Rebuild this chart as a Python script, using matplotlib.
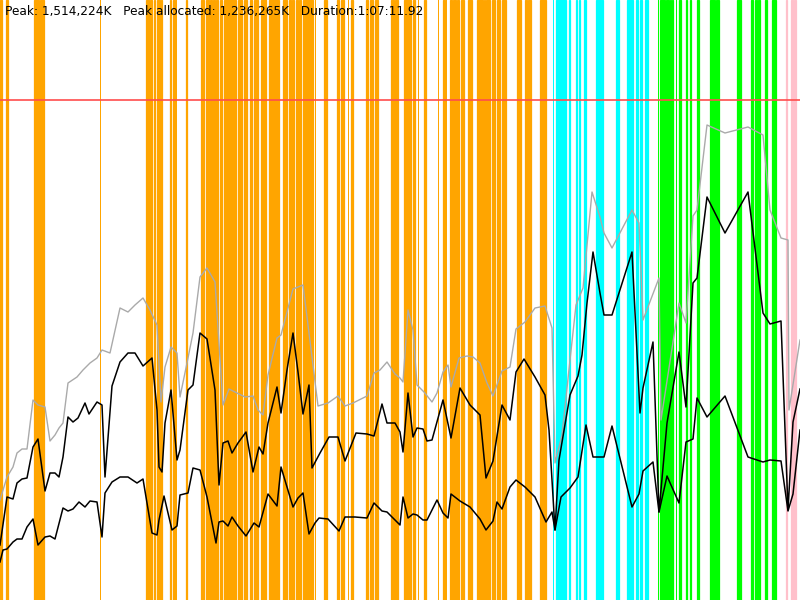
import matplotlib
matplotlib.use("Agg")
import matplotlib.pyplot as plt

# ---- data (time units 0..800, memory units 0..600) ----
peak_t = [0, 7, 13, 17, 22, 27, 33, 38, 45, 50, 55, 59, 63, 68, 77, 83, 90, 97, 102, 110, 120, 128, 135, 143, 150,
          157, 161, 165, 171, 177, 180, 187, 193, 200, 207, 215, 223, 229, 237, 245, 253, 258, 263, 268, 277, 281,
          293, 298, 303, 312, 318, 328, 338, 345, 353, 367, 374, 380, 387, 395, 400, 403, 408, 413, 417, 424, 432,
          437, 443, 448, 451, 459, 467, 473, 480, 487, 493, 502, 510, 516, 525, 535, 545, 552, 555, 562, 570, 576,
          583, 592, 600, 604, 612, 632, 639, 643, 659, 661, 679, 686, 693, 697, 707, 725, 748, 763, 770, 781, 788,
          789, 800]
peak_v = [100, 123, 133, 147, 151, 151, 200, 195, 193, 159, 165, 172, 177, 217, 223, 230, 237, 242, 250, 247, 292,
          288, 295, 302, 290, 275, 198, 233, 253, 247, 203, 237, 267, 323, 332, 318, 195, 211, 207, 203, 204, 190,
          185, 225, 262, 265, 311, 313, 315, 243, 194, 197, 204, 194, 197, 204, 227, 230, 238, 226, 222, 218, 290,
          270, 215, 208, 198, 207, 228, 235, 213, 242, 244, 243, 237, 217, 204, 229, 233, 271, 278, 292, 294, 272,
          137, 165, 240, 295, 312, 408, 383, 367, 352, 390, 377, 280, 322, 180, 297, 277, 384, 390, 475, 467, 473,
          465, 390, 362, 360, 190, 260]

alloc_t = [0, 7, 13, 17, 22, 27, 33, 38, 45, 50, 55, 59, 63, 68, 73, 78, 85, 89, 97, 102, 105, 112, 120, 128, 135,
           143, 152, 157, 159, 162, 165, 171, 177, 180, 188, 193, 200, 207, 215, 219, 223, 228, 232, 238, 246, 253,
           259, 263, 268, 277, 281, 287, 293, 298, 303, 309, 312, 320, 329, 338, 345, 356, 367, 374, 382, 387, 395,
           400, 403, 408, 413, 417, 423, 427, 432, 443, 451, 460, 470, 480, 486, 493, 502, 510, 516, 524, 535, 545,
           549, 555, 559, 570, 578, 582, 587, 593, 600, 604, 612, 632, 640, 643, 653, 659, 667, 679, 686, 693, 697,
           707, 725, 748, 763, 770, 781, 788, 793, 800]
alloc_v = [55, 103, 101, 117, 121, 122, 153, 161, 109, 127, 127, 123, 143, 183, 178, 182, 197, 186, 198, 195, 123,
           214, 238, 247, 247, 234, 242, 190, 133, 128, 177, 210, 140, 150, 210, 215, 267, 261, 210, 115, 157, 159,
           147, 157, 168, 128, 153, 146, 177, 213, 187, 230, 267, 228, 186, 215, 132, 147, 163, 163, 139, 167, 166,
           164, 196, 177, 177, 168, 148, 207, 163, 172, 171, 159, 160, 200, 162, 212, 195, 185, 122, 139, 195, 180,
           228, 241, 223, 205, 170, 70, 140, 205, 224, 245, 297, 348, 307, 285, 285, 348, 187, 212, 258, 88, 177,
           248, 193, 317, 322, 403, 367, 408, 287, 276, 279, 90, 178, 211]

live_t = [0, 3, 7, 13, 17, 22, 27, 33, 38, 45, 50, 55, 63, 68, 73, 79, 85, 90, 97, 102, 105, 112, 120, 128, 137, 143,
          147, 152, 157, 159, 164, 172, 177, 180, 188, 193, 200, 207, 216, 219, 223, 228, 232, 238, 246, 254, 259,
          268, 277, 281, 287, 293, 298, 303, 309, 315, 319, 328, 339, 345, 355, 367, 374, 382, 387, 395, 400, 403,
          408, 413, 417, 423, 427, 437, 443, 448, 451, 460, 470, 480, 486, 493, 497, 502, 510, 516, 525, 535, 546,
          552, 555, 561, 570, 578, 586, 593, 600, 604, 612, 632, 639, 643, 653, 659, 667, 679, 686, 693, 697, 707,
          725, 748, 763, 770, 781, 788, 793, 800]
live_v = [38, 50, 51, 58, 61, 61, 73, 81, 55, 63, 64, 61, 92, 89, 91, 98, 93, 99, 98, 63, 107, 118, 123, 123, 117,
          121, 97, 67, 65, 80, 104, 70, 74, 105, 107, 132, 130, 103, 57, 78, 79, 74, 83, 74, 64, 77, 73, 106, 94, 133,
          113, 93, 102, 107, 66, 77, 82, 81, 69, 83, 83, 82, 97, 89, 88, 80, 75, 103, 82, 86, 85, 80, 80, 100, 87, 82,
          106, 99, 93, 81, 70, 79, 98, 91, 113, 120, 113, 103, 78, 88, 70, 103, 112, 123, 175, 143, 143, 143, 174, 93,
          106, 129, 138, 88, 124, 97, 158, 161, 202, 183, 204, 143, 138, 140, 139, 89, 106, 170]

limit_value = 500

# event intervals (start, end) per phase
phase1_events = [(0, 2), (6, 8), (34, 36.7), (37.3, 39.3), (40, 44), (100, 100.6),
                 (146.3, 148.7), (150.3, 152.3), (153.7, 155), (157, 159.7), (161, 162), (169.7, 171.3),
                 (173, 175.3), (176.3, 176.8), (185.7, 187), (201.3, 203.7), (206.3, 209), (210.3, 211.7),
                 (213, 215), (216.3, 218.3), (219.7, 222.3), (223.7, 236.3), (238.3, 241.7), (244, 247.3),
                 (249.7, 252.3), (253.7, 258), (261, 265.7), (266, 266.6), (268.7, 279.3), (283.3, 284.7),
                 (285.3, 287.3), (289.3, 291), (292, 294), (296, 298), (299.3, 300.7), (303.3, 312.7),
                 (313.5, 314), (315, 315.5), (324.3, 326.7), (336.7, 339.3), (341, 344.3), (348, 348.6),
                 (351, 353.3), (366, 368), (370, 372.7), (374.7, 378), (391.3, 394.3), (395.3, 398),
                 (404, 410.7), (413.3, 415), (418.3, 418.8), (421.7, 422.2), (424, 426), (438.3, 438.8),
                 (442.7, 445), (446, 446.5), (450, 451.7), (453.3, 456), (457.3, 459), (460.7, 464),
                 (468.3, 471.7), (476.7, 482.7), (484, 485), (486, 490), (491.7, 495), (496.7, 500),
                 (501.7, 506), (516.7, 520.7), (525.3, 526.7), (528.3, 531), (540.3, 545.7)]
phase2_events = [(553, 553.5), (556.3, 566.3), (569, 570.3), (575.7, 577), (579, 580.3), (583.7, 585.7),
                 (596.3, 603), (615.7, 619), (627, 629.7), (630.3, 633), (635.7, 637.7), (639.7, 642),
                 (645, 648)]
phase3_events = [(655.7, 656.2), (658, 658.5), (659.7, 664.7), (666, 669.3), (670, 671.3), (672, 673.3),
                 (676, 676.5), (679.3, 680.7), (686, 687.3), (690, 691.3), (696.7, 698.7), (710, 712.7),
                 (713.3, 715.3), (716, 718.7), (736.7, 740.7), (751, 753.3), (754.7, 756.7), (758, 760),
                 (765.3, 767.3), (772, 776)]
phase4_events = [(786, 787.3), (791, 792.7), (794.3, 796)]

header = "Peak: 1,514,224K   Peak allocated: 1,236,265K   Duration:1:07:11.92"

# ---- drawing ----
fig = plt.figure(figsize=(8, 6), dpi=100)
ax = fig.add_axes([0, 0, 1, 1])
ax.set_xlim(0, 800)
ax.set_ylim(0, 600)
ax.axis("off")

for events, col in [(phase1_events, "#FFA500"), (phase2_events, "#00FFFF"),
                    (phase3_events, "#00FF00"), (phase4_events, "#FFC0CB")]:
    for s, e in events:
        edge = 0.9 if (e - s) >= 1 else 0
        ax.axvspan(s, e, facecolor=col, edgecolor=col, lw=edge, zorder=1)

ax.axhline(limit_value, color="#FF4D4D", lw=1.2, zorder=2)
ax.plot(peak_t, peak_v, color="#AAAAAA", lw=1.0, zorder=3)
ax.plot(alloc_t, alloc_v, color="#000000", lw=1.1, zorder=4)
ax.plot(live_t, live_v, color="#000000", lw=1.1, zorder=4)

txt = fig.text(5 / 800, 1 - 12 / 600, header, fontsize=9, family="DejaVu Sans",
               color="#000000", va="center", ha="left", zorder=5)
fig.canvas.draw()
w = txt.get_window_extent().width
txt.set_fontsize(9 * 416 / w)

fig.savefig("out.png", dpi=100)
